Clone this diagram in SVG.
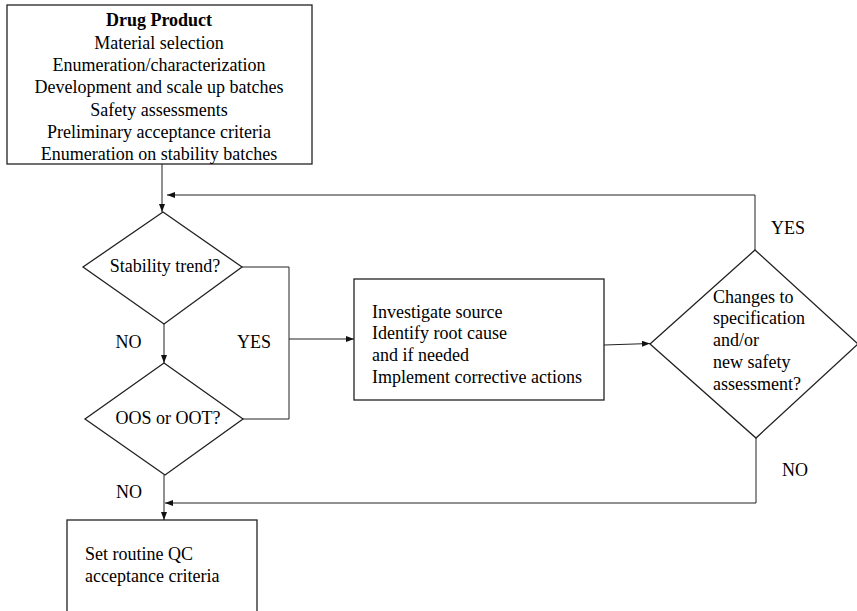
<svg xmlns="http://www.w3.org/2000/svg" width="857" height="611" viewBox="0 0 857 611">
<defs>
<marker id="arr" viewBox="0 0 8 6" refX="8" refY="3" markerWidth="8" markerHeight="6" markerUnits="userSpaceOnUse" orient="auto">
<path d="M0,0 L8,3 L0,6 Z" fill="#111"/>
</marker>
</defs>
<rect width="857" height="611" fill="#fff"/>
<g id="drug-product">
<rect x="7" y="5" width="305" height="159" fill="#fff" stroke="#222" stroke-width="1.3"/>
<text x="159" y="26" font-family="Liberation Serif" font-size="18" font-weight="bold" text-anchor="middle">Drug Product</text>
<text x="159" y="48.5" font-family="Liberation Serif" font-size="18" text-anchor="middle">Material selection</text>
<text x="159" y="70.5" font-family="Liberation Serif" font-size="18" text-anchor="middle">Enumeration/characterization</text>
<text x="159" y="93" font-family="Liberation Serif" font-size="18" text-anchor="middle">Development and scale up batches</text>
<text x="159" y="115.5" font-family="Liberation Serif" font-size="18" text-anchor="middle">Safety assessments</text>
<text x="159" y="137.5" font-family="Liberation Serif" font-size="18" text-anchor="middle">Preliminary acceptance criteria</text>
<text x="159" y="159.5" font-family="Liberation Serif" font-size="18" text-anchor="middle">Enumeration on stability batches</text>
</g>
<g id="stability-trend">
<polygon points="163,212 242,267 164,324 83,267" fill="#fff" stroke="#222" stroke-width="1.3"/>
<text x="165" y="272" font-family="Liberation Serif" font-size="18" text-anchor="middle">Stability trend?</text>
</g>
<g id="oos-oot">
<polygon points="164,363 243,419 165,475 85,419" fill="#fff" stroke="#222" stroke-width="1.3"/>
<text x="168" y="424" font-family="Liberation Serif" font-size="18" text-anchor="middle">OOS or OOT?</text>
</g>
<g id="investigate">
<rect x="354" y="279" width="250" height="121" fill="#fff" stroke="#222" stroke-width="1.3"/>
<text x="372" y="317.5" font-family="Liberation Serif" font-size="18">Investigate source</text>
<text x="372" y="339" font-family="Liberation Serif" font-size="18">Identify root cause</text>
<text x="372" y="360.5" font-family="Liberation Serif" font-size="18">and if needed</text>
<text x="372" y="382.5" font-family="Liberation Serif" font-size="18">Implement corrective actions</text>
</g>
<g id="changes">
<polygon points="755,250 858,344 756,438 650,344" fill="#fff" stroke="#222" stroke-width="1.3"/>
<text x="713" y="302.5" font-family="Liberation Serif" font-size="18">Changes to</text>
<text x="713" y="324" font-family="Liberation Serif" font-size="18">specification</text>
<text x="713" y="345.5" font-family="Liberation Serif" font-size="18">and/or</text>
<text x="713" y="367.5" font-family="Liberation Serif" font-size="18">new safety</text>
<text x="713" y="389.5" font-family="Liberation Serif" font-size="18">assessment?</text>
</g>
<g id="set-routine">
<rect x="67" y="520" width="190" height="100" fill="#fff" stroke="#222" stroke-width="1.3"/>
<text x="85" y="559.5" font-family="Liberation Serif" font-size="18">Set routine QC</text>
<text x="85" y="581.5" font-family="Liberation Serif" font-size="18">acceptance criteria</text>
</g>
<g id="connectors" fill="none" stroke="#222" stroke-width="1">
<line x1="162" y1="164" x2="162" y2="212" marker-end="url(#arr)"/>
<line x1="164" y1="324" x2="164" y2="363" marker-end="url(#arr)"/>
<polyline points="242,267 289,267 289,419 243,419"/>
<line x1="289" y1="339" x2="354" y2="339" marker-end="url(#arr)"/>
<line x1="604" y1="345" x2="650" y2="343.5" marker-end="url(#arr)"/>
<polyline points="755,250 755,195 167,195" marker-end="url(#arr)"/>
<polyline points="756,438 756,503 165,503" marker-end="url(#arr)"/>
<line x1="164" y1="475" x2="164" y2="520" marker-end="url(#arr)"/>
</g>
<g id="labels">
<text x="128.5" y="347.5" font-family="Liberation Serif" font-size="18" text-anchor="middle">NO</text>
<text x="254" y="347.5" font-family="Liberation Serif" font-size="18" text-anchor="middle">YES</text>
<text x="788" y="233.5" font-family="Liberation Serif" font-size="18" text-anchor="middle">YES</text>
<text x="795" y="475.5" font-family="Liberation Serif" font-size="18" text-anchor="middle">NO</text>
<text x="129" y="497.5" font-family="Liberation Serif" font-size="18" text-anchor="middle">NO</text>
</g>
</svg>
